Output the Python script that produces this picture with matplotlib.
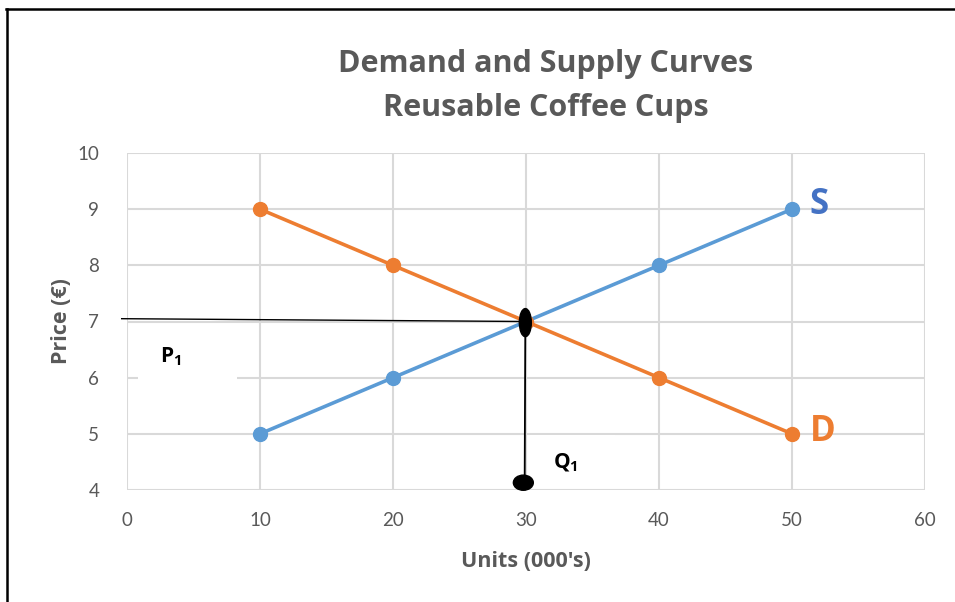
import matplotlib
matplotlib.use("Agg")
import matplotlib.pyplot as plt
from matplotlib.lines import Line2D
from matplotlib.patches import Ellipse, Rectangle

plt.rcParams['font.family'] = ['Lato', 'DejaVu Sans']
plt.rcParams['mathtext.fontset'] = 'custom'
plt.rcParams['mathtext.bf'] = 'Open Sans:bold'
plt.rcParams['mathtext.rm'] = 'Open Sans'
BOLD_FONT = ['Open Sans', 'DejaVu Sans']

# market data (units in 000's, price in euro)
units = [10, 20, 30, 40, 50]
supply_price = [5, 6, 7, 8, 9]
demand_price = [9, 8, 7, 6, 5]
eq_units = 30
eq_price = 7

x_ticks = [0, 10, 20, 30, 40, 50, 60]
y_ticks = [4, 5, 6, 7, 8, 9, 10]

BLUE = '#5B9BD5'
ORANGE = '#ED7D31'
GREY = '#595959'
GRID = '#D9D9D9'

fig = plt.figure(figsize=(9.55, 6.02), dpi=100)
ax = fig.add_axes([127 / 955, 1 - 490 / 602, 798 / 955, 337 / 602])

ax.set_xlim(0, 60)
ax.set_ylim(4, 10)
ax.set_xticks(x_ticks)
ax.set_yticks(y_ticks)
ax.grid(True, color=GRID, linewidth=1.5, zorder=0)
for s in ax.spines.values():
    s.set_visible(False)
ax.tick_params(length=0, labelsize=13.5, labelcolor=GREY)
ax.tick_params(axis='x', pad=16)
ax.tick_params(axis='y', pad=20)

ax.plot(units, supply_price, color=BLUE, linewidth=2.6, marker='o',
        markersize=10, zorder=3)
ax.plot(units, demand_price, color=ORANGE, linewidth=2.6, marker='o',
        markersize=10, zorder=4)

# white label boxes for P1 and Q1
ax.add_patch(Rectangle((0.85, 5.85), 7.4, 0.9, facecolor='white',
                       edgecolor='none', zorder=2))
ax.add_patch(Rectangle((30.3, 4.15), 6.4, 0.83, facecolor='white',
                       edgecolor='none', zorder=2))

# price and quantity guides to the equilibrium
ax.plot([-0.4, eq_units - 0.05], [eq_price + 0.05, eq_price], color='black',
        linewidth=1.0, zorder=5, clip_on=False)
ax.plot([eq_units - 0.05, eq_units - 0.1], [eq_price, 4.13], color='black',
        linewidth=1.3, zorder=5)
ax.add_patch(Ellipse((eq_units - 0.05, eq_price - 0.02), 0.9, 0.5,
                     color='black', zorder=6))
ax.add_patch(Ellipse((eq_units - 0.2, 4.13), 1.5, 0.27,
                     color='black', zorder=6, clip_on=False))

ax.text(3.3, 6.38, r'$\mathbf{P_1}$', fontsize=15, color='black',
        ha='center', va='center', zorder=7)
ax.text(33.0, 4.48, r'$\mathbf{Q_1}$', fontsize=15, color='black',
        ha='center', va='center', zorder=7)

ax.text(52.0, 9.07, 'S', fontsize=25, fontweight='bold', color='#4472C4',
        family=BOLD_FONT, ha='center', va='center')
ax.text(52.3, 5.03, 'D', fontsize=25, fontweight='bold', color=ORANGE,
        family=BOLD_FONT, ha='center', va='center')

ax.set_xlabel("Units (000's)", fontsize=15.5, fontweight='bold', color=GREY,
              family=BOLD_FONT, labelpad=16)
ax.set_ylabel('Price (€)', fontsize=15.5, fontweight='bold', color=GREY,
              family=BOLD_FONT, labelpad=4)

fig.text(546 / 955, 1 - 64 / 602, 'Demand and Supply Curves', fontsize=22,
         fontweight='bold', color=GREY, family=BOLD_FONT,
         ha='center', va='center')
fig.text(546 / 955, 1 - 108 / 602, 'Reusable Coffee Cups', fontsize=22,
         fontweight='bold', color=GREY, family=BOLD_FONT,
         ha='center', va='center')

# outer frame, top and left edges only
fig.add_artist(Line2D([6 / 955, 1], [1 - 8.5 / 602] * 2, color='black',
                      linewidth=1.8, transform=fig.transFigure))
fig.add_artist(Line2D([6.5 / 955] * 2, [0, 1 - 8.5 / 602], color='black',
                      linewidth=1.8, transform=fig.transFigure))

fig.savefig('out.png', dpi=100)
